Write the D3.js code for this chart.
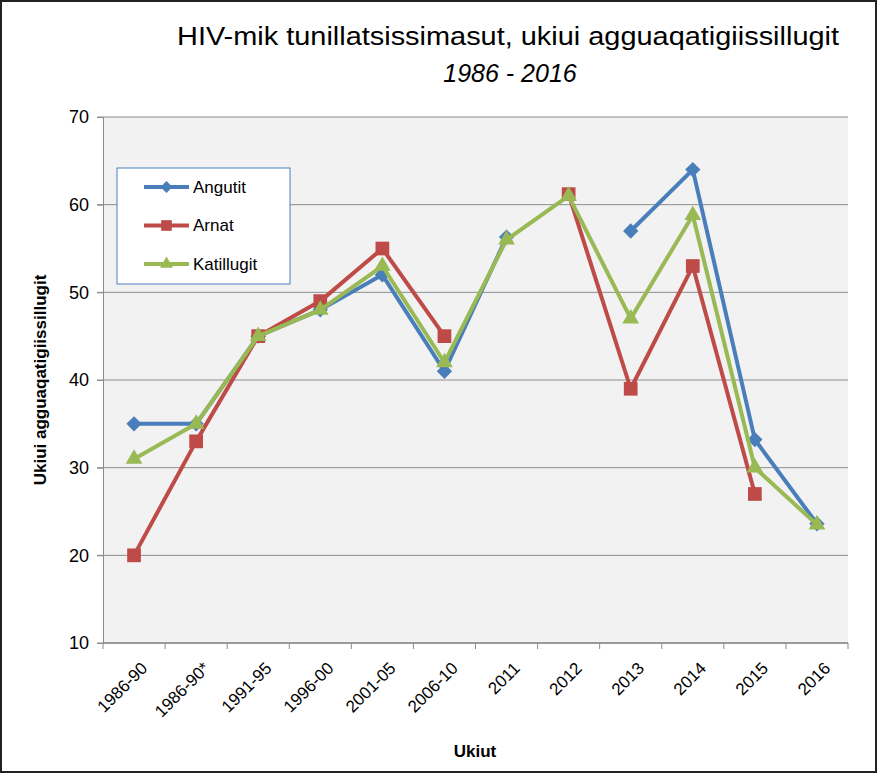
<!DOCTYPE html>
<html>
<head>
<meta charset="utf-8">
<script src="https://cdn.jsdelivr.net/npm/d3@7"></script>
<style>
  body { margin: 0; background: #fff; }
  text { font-family: "Liberation Sans", Arial, sans-serif; fill: #000; }
</style>
</head>
<body>
<svg id="chart" width="877" height="773"></svg>
<script>
const width = 877, height = 773

const ukiut = ["1986-90", "1986-90*", "1991-95", "1996-00", "2001-05", "2006-10",
               "2011", "2012", "2013", "2014", "2015", "2016"]
const angutit    = [35, 35, 45, 48, 52, 41, 56.3, null, 57, 64, 33.2, 23.6]
const arnat      = [20, 33, 45, 49, 55, 45, null, 61.2, 39, 53, 27, null]
const katillugit = [31, 35, 45, 48, 53, 42, 56, 61, 47, 58.8, 30, 23.5]
const yTicks = [10, 20, 30, 40, 50, 60, 70]

const series = [
  {name: "Angutit", values: angutit, color: "#4A7EBB", symbol: d3.symbolDiamond2, size: 150},
  {name: "Arnat", values: arnat, color: "#BE4B48", symbol: d3.symbolSquare2, size: 240},
  {name: "Katillugit", values: katillugit, color: "#98B954", symbol: d3.symbolTriangle2, size: 200}
]

const margin = {left: 103, right: 29, top: 117, bottom: 130}

const svg = d3.select('#chart')

// ramme
svg.append('rect')
    .attr('x', 1).attr('y', 1)
    .attr('width', width - 2).attr('height', height - 2)
    .attr('fill', '#fff').attr('stroke', '#222').attr('stroke-width', 2)

const x = d3.scaleBand()
    .domain(ukiut)
    .range([margin.left, width - margin.right])

const y = d3.scaleLinear()
    .domain([10, 70])
    .range([height - margin.bottom, margin.top])

// plot baggrund
svg.append('rect')
    .attr('x', margin.left).attr('y', margin.top)
    .attr('width', width - margin.left - margin.right)
    .attr('height', height - margin.top - margin.bottom)
    .attr('fill', '#F2F2F2')

// gridlinjer
svg.append('g')
    .selectAll('line')
    .data(yTicks)
    .join('line')
    .attr('x1', margin.left - 6)
    .attr('x2', width - margin.right)
    .attr('y1', d => y(d)).attr('y2', d => y(d))
    .attr('stroke', '#8C8C8C').attr('stroke-width', 1)

// y akse
const yAxis = svg.append('g')
    .attr('transform', `translate(${margin.left},0)`)
    .call(d3.axisLeft(y).tickValues(yTicks).tickSize(6).tickPadding(8))
yAxis.select('.domain').attr('stroke', '#8C8C8C')
yAxis.selectAll('.tick line').attr('stroke', '#8C8C8C')
yAxis.selectAll('.tick text')
    .style('font-size', '18px')
    .style('font-family', '"Liberation Sans", Arial, sans-serif')
    .attr('fill', '#000')

// x akse med tick mellem kategorier
const xAxisG = svg.append('g')
    .attr('transform', `translate(0,${y(10)})`)
xAxisG.append('line')
    .attr('x1', margin.left).attr('x2', width - margin.right)
    .attr('stroke', '#8C8C8C').attr('stroke-width', 1.5)
const edges = ukiut.map(d => x(d)).concat([x.range()[1]])
xAxisG.selectAll('.tk')
    .data(edges)
    .join('line')
    .attr('class', 'tk')
    .attr('x1', d => d).attr('x2', d => d)
    .attr('y1', 0).attr('y2', 6)
    .attr('stroke', '#8C8C8C')
xAxisG.selectAll('.lbl')
    .data(ukiut)
    .join('text')
    .attr('class', 'lbl')
    .attr('transform', d => `translate(${x(d) + x.bandwidth() / 2 + 6},${18}) rotate(-45)`)
    .attr('text-anchor', 'end')
    .attr('dy', '0.7em')
    .style('font-size', '17px')
    .text(d => d)

// linjer
const line = d3.line()
    .defined(d => d.v != null)
    .x(d => x(d.k) + x.bandwidth() / 2)
    .y(d => y(d.v))

const plot = svg.append('g')
series.forEach(s => {
  const pts = ukiut.map((k, i) => ({k, v: s.values[i]}))
  plot.append('path')
      .datum(pts)
      .attr('d', line)
      .attr('fill', 'none')
      .attr('stroke', s.color)
      .attr('stroke-width', 4)
      .attr('stroke-linejoin', 'round')
  plot.append('g')
      .selectAll('path')
      .data(pts.filter(d => d.v != null))
      .join('path')
      .attr('transform', d => `translate(${x(d.k) + x.bandwidth() / 2},${y(d.v)})`)
      .attr('d', d3.symbol(s.symbol, s.size))
      .attr('fill', s.color)
})

// legend
const legend = svg.append('g').attr('transform', 'translate(117,168)')
legend.append('rect')
    .attr('width', 173).attr('height', 116)
    .attr('fill', '#fff').attr('stroke', '#4A7EBB').attr('stroke-width', 1)
series.forEach((s, i) => {
  const ly = 19 + i * 38.5
  const g = legend.append('g').attr('transform', `translate(0,${ly})`)
  g.append('line')
      .attr('x1', 27).attr('x2', 72)
      .attr('stroke', s.color).attr('stroke-width', 4)
  g.append('path')
      .attr('transform', 'translate(49.5,0)')
      .attr('d', d3.symbol(s.symbol, s.size * 0.6))
      .attr('fill', s.color)
  g.append('text')
      .attr('x', 76).attr('dy', '0.35em')
      .style('font-size', '17px')
      .text(s.name)
})

// titel
svg.append('text')
    .attr('x', 508).attr('y', 45)
    .attr('text-anchor', 'middle')
    .attr('textLength', 662).attr('lengthAdjust', 'spacingAndGlyphs')
    .style('font-size', '25px')
    .text('HIV-mik tunillatsissimasut, ukiui agguaqatigiissillugit')
svg.append('text')
    .attr('x', 510).attr('y', 82)
    .attr('text-anchor', 'middle')
    .style('font-size', '25px').style('font-style', 'italic')
    .text('1986 - 2016')

// akse titler
svg.append('text')
    .attr('transform', 'translate(46,380) rotate(-90)')
    .attr('text-anchor', 'middle')
    .style('font-size', '17px').style('font-weight', 'bold')
    .text('Ukiui agguaqatigiissillugit')
svg.append('text')
    .attr('x', 475).attr('y', 757)
    .attr('text-anchor', 'middle')
    .style('font-size', '17px').style('font-weight', 'bold')
    .text('Ukiut')
</script>
</body>
</html>
